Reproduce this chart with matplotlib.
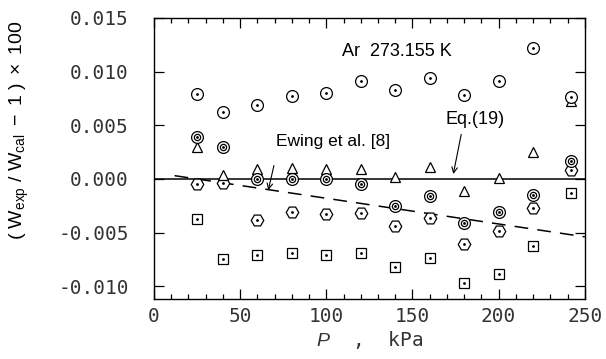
import matplotlib.pyplot as plt
from matplotlib.ticker import MultipleLocator, FixedLocator

plt.rcParams['axes.unicode_minus'] = False
plt.rcParams['mathtext.fontset'] = 'custom'
plt.rcParams['mathtext.rm'] = 'Liberation Sans'
plt.rcParams['mathtext.it'] = 'Liberation Sans:italic'

# pressure, kPa
pressure = [25, 40, 60, 80, 100, 120, 140, 160, 180, 200, 220, 242]

# deviations of the different data sets
dev_circle = [0.0079, 0.0062, 0.0069, 0.0077, 0.0080, 0.0091, 0.0083, 0.0094, 0.0078, 0.0091, 0.0122, 0.0076]
dev_double = [0.0039, 0.0030, 0.0000, 0.0000, 0.0000, -0.0005, -0.0025, -0.0016, -0.0041, -0.0031, -0.0015, 0.0017]
dev_hexagon = [-0.0005, -0.0004, -0.0038, -0.0031, -0.0033, -0.0032, -0.0044, -0.0036, -0.0061, -0.0049, -0.0027, 0.0008]
dev_triangle = [0.0030, 0.0004, 0.0009, 0.0010, 0.0009, 0.0009, 0.0002, 0.0011, -0.0011, 0.0001, 0.0025, 0.0073]
dev_square = [-0.0037, -0.0075, -0.0071, -0.0069, -0.0071, -0.0069, -0.0082, -0.0074, -0.0097, -0.0089, -0.0063, -0.0013]

# Ewing et al. [8] (dashed) and Eq.(19) (solid)
ewing_p = [12, 250]
ewing_dev = [0.0003, -0.0054]
eq19_p = [0, 250]
eq19_dev = [0.0, 0.0]

y_ticks = [0.015, 0.010, 0.005, 0.000, -0.005, -0.010]
y_tick_labels = ["0.015", "0.010", "0.005", "0.000", "-0.005", "-0.010"]
x_ticks = [0, 50, 100, 150, 200, 250]

fig = plt.figure(figsize=(6.06, 3.59), dpi=100)
ax = fig.add_axes([0.254, 0.167, 0.711, 0.783])

ax.plot(eq19_p, eq19_dev, color="black", lw=1.1)
ax.plot(ewing_p, ewing_dev, color="black", lw=1.1, dashes=(9, 6))

mk = dict(linestyle="none", markerfacecolor="white", markeredgecolor="black", markeredgewidth=0.9)
dot = dict(linestyle="none", marker=".", color="black", markersize=2)

ax.plot(pressure, dev_square, marker="s", markersize=6.5, **mk)
ax.plot(pressure, dev_square, **dot)
ax.plot(pressure, dev_hexagon, marker="H", markersize=9, **mk)
ax.plot(pressure, dev_hexagon, **dot)
ax.plot(pressure, dev_triangle, marker="^", markersize=7.5, **mk)
ax.plot(pressure, dev_double, marker="o", markersize=8.5, **mk)
ax.plot(pressure, dev_double, marker="o", markersize=4.5, **mk)
ax.plot(pressure, dev_double, **dot)
ax.plot(pressure, dev_circle, marker="o", markersize=8.5, **mk)
ax.plot(pressure, dev_circle, **dot)

ax.set_xlim(0, 250)
ax.set_ylim(-0.0112, 0.015)

ax.xaxis.set_major_locator(FixedLocator(x_ticks))
ax.xaxis.set_minor_locator(MultipleLocator(10))
ax.yaxis.set_major_locator(FixedLocator(y_ticks))
ax.set_yticklabels(y_tick_labels)
ax.tick_params(which="both", direction="in", top=True, right=True, width=0.9)
ax.tick_params(which="major", length=7)
ax.tick_params(which="minor", length=3.5)
ax.tick_params(axis="y", pad=18)
ax.tick_params(axis="x", pad=6)
for lab in ax.get_xticklabels() + ax.get_yticklabels():
    lab.set_fontfamily("DejaVu Sans Mono")
    lab.set_fontsize(14)
    lab.set_color("#333333")
for s in ax.spines.values():
    s.set_linewidth(1.0)

ax.set_xlabel(r"$\it{P}$  ,  kPa", fontsize=14, family="DejaVu Sans Mono", color="#333333", labelpad=2)
ax.set_ylabel(r"$(\ \mathrm{W}_{\mathrm{exp}}\ /\ \mathrm{W}_{\mathrm{cal}}\ -\ 1\ )\ \times\ 100$",
              fontsize=14)
ax.yaxis.set_label_coords(-0.285, 0.60)

ax.text(109, 0.0119, "Ar  273.155 K", fontsize=13, family="Liberation Sans", va="center")
ax.text(71, 0.0035, "Ewing et al. [8]", fontsize=12.5, family="Liberation Sans", va="center")
ax.text(169, 0.0055, "Eq.(19)", fontsize=13, family="Liberation Sans", va="center")
ax.annotate("", xy=(66, -0.0013), xytext=(70, 0.0015),
            arrowprops=dict(arrowstyle="->", color="black", lw=0.8))
ax.annotate("", xy=(173.4, 0.0002), xytext=(178.6, 0.0044),
            arrowprops=dict(arrowstyle="->", color="black", lw=0.8))

fig.savefig("out.png", dpi=100)
